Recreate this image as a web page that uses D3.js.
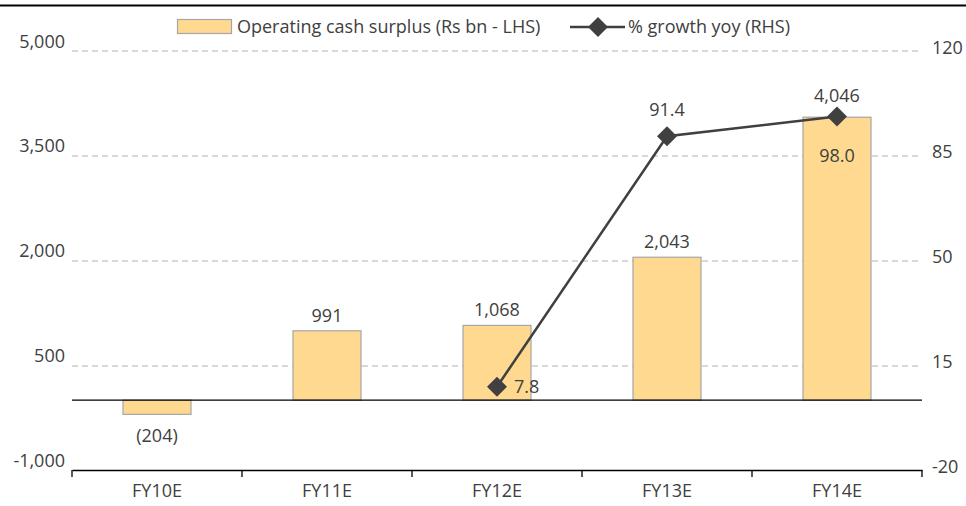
<!DOCTYPE html>
<html>
<head>
<meta charset="utf-8">
<script src="https://cdn.jsdelivr.net/npm/d3@7"></script>
<style>
  body { margin: 0; background: #fff; }
  text { font-family: "Open Sans", sans-serif; fill: #404040; }
</style>
</head>
<body>
<div id="chart-area"></div>
<script>
// data
var years = ["FY10E", "FY11E", "FY12E", "FY13E", "FY14E"];
var cashSurplus = [-204, 991, 1068, 2043, 4046];
var growth = [null, null, 7.8, 91.4, 98.0];
var leftTicks = [-1000, 500, 2000, 3500, 5000];
var rightTicks = [-20, 15, 50, 85, 120];

var width = 966, height = 506;
var margin = { left: 72, right: 44, top: 50.5, bottom: 36 };
var innerW = width - margin.left - margin.right,
    innerH = height - margin.top - margin.bottom;

var svg = d3.select("#chart-area")
  .append("svg")
    .attr("width", width)
    .attr("height", height);

// top rule
svg.append("rect")
  .attr("x", 0).attr("y", 4.5)
  .attr("width", width).attr("height", 2)
  .attr("fill", "#000");

var g = svg.append("g")
  .attr("transform", "translate(" + margin.left + "," + margin.top + ")");

var x = d3.scaleBand().domain(years).range([0, innerW]);
var y = d3.scaleLinear().domain([-1000, 5000]).range([innerH, 0]);
var y2 = d3.scaleLinear().domain([-20, 120]).range([innerH, 0]);

var fmt = function(d){ return d3.format(",")(d).replace("\u2212", "-") };
var FS = "18px";

// gridlines
g.selectAll(".grid")
  .data(leftTicks.slice(1))
  .enter().append("line")
    .attr("x1", 0).attr("x2", innerW)
    .attr("y1", function(d){ return Math.round(y(d)) + 0.5 })
    .attr("y2", function(d){ return Math.round(y(d)) + 0.5 })
    .attr("stroke", "#b0b0b0")
    .attr("stroke-dasharray", "6,4");

// left tick labels
g.selectAll(".ly")
  .data(leftTicks)
  .enter().append("text")
    .attr("x", -7)
    .attr("y", function(d){ return y(d) - 3 })
    .attr("text-anchor", "end")
    .attr("font-size", FS)
    .text(function(d){ return fmt(d) });

// right tick labels
g.selectAll(".ry")
  .data(rightTicks)
  .enter().append("text")
    .attr("x", innerW + 10)
    .attr("y", function(d){ return y2(d) + 3 })
    .attr("text-anchor", "start")
    .attr("font-size", FS)
    .text(function(d){ return fmt(d) });

// bars
var barW = x.bandwidth() * 0.4;
g.selectAll(".bar")
  .data(cashSurplus)
  .enter().append("rect")
    .attr("x", function(d, i){ return x(years[i]) + (x.bandwidth() - barW) / 2 })
    .attr("y", function(d){ return y(Math.max(0, d)) })
    .attr("width", barW)
    .attr("height", function(d){ return Math.abs(y(d) - y(0)) })
    .attr("fill", "#FFD98F")
    .attr("stroke", "#a6a6a6")
    .attr("stroke-width", 1.2);

// bar labels (last one lifted clear of the marker)
var barLabOff = [28, -9, -9, -9, -15];
g.selectAll(".blab")
  .data(cashSurplus)
  .enter().append("text")
    .attr("x", function(d, i){ return x(years[i]) + x.bandwidth() / 2 })
    .attr("y", function(d, i){ return y(d) + barLabOff[i] })
    .attr("text-anchor", "middle")
    .attr("font-size", FS)
    .text(function(d){ return d < 0 ? "(" + fmt(-d) + ")" : fmt(d) });

// zero line
g.append("line")
  .attr("x1", 0).attr("x2", innerW)
  .attr("y1", y(0)).attr("y2", y(0))
  .attr("stroke", "#000").attr("stroke-width", 1.3);

// x axis
var xAxis = d3.axisBottom(x).tickSize(0).tickPadding(14);
var xG = g.append("g")
  .attr("transform", "translate(0," + innerH + ")")
  .call(xAxis);
xG.select(".domain").attr("stroke", "#000").attr("stroke-width", 1.3);
xG.selectAll("text").attr("font-size", FS).attr("font-family", "Open Sans").attr("fill", "#404040");
// boundary ticks
var tickX = years.map(function(d){ return x(d) }).concat([innerW]);
xG.selectAll(".bt")
  .data(tickX)
  .enter().append("line")
    .attr("x1", function(d){ return d }).attr("x2", function(d){ return d })
    .attr("y1", 0).attr("y2", 7)
    .attr("stroke", "#000").attr("stroke-width", 1.3);

// growth line
var pts = growth.map(function(d, i){ return { k: years[i], v: d } })
  .filter(function(d){ return d.v !== null });
var line = d3.line()
  .x(function(d){ return x(d.k) + x.bandwidth() / 2 })
  .y(function(d){ return y2(d.v) });
g.append("path")
  .datum(pts)
  .attr("d", line)
  .attr("fill", "none")
  .attr("stroke", "#404040")
  .attr("stroke-width", 2.5);

var diamond = d3.symbol().type(d3.symbolSquare).size(200);
g.selectAll(".mk")
  .data(pts)
  .enter().append("path")
    .attr("d", diamond)
    .attr("transform", function(d){
      return "translate(" + (x(d.k) + x.bandwidth() / 2) + "," + y2(d.v) + ") rotate(45)" })
    .attr("fill", "#404040");

// growth labels
var glabPos = [
  { dx: 17, dy: 6, anchor: "start" },
  { dx: 0, dy: -20, anchor: "middle" },
  { dx: 0, dy: 46, anchor: "middle" }
];
g.selectAll(".glab")
  .data(pts)
  .enter().append("text")
    .attr("x", function(d, i){ return x(d.k) + x.bandwidth() / 2 + glabPos[i].dx })
    .attr("y", function(d, i){ return y2(d.v) + glabPos[i].dy })
    .attr("text-anchor", function(d, i){ return glabPos[i].anchor })
    .attr("font-size", FS)
    .text(function(d){ return d.v.toFixed(1) });

// legend
var lg = svg.append("g");
lg.append("rect")
  .attr("x", 177.5).attr("y", 19.5)
  .attr("width", 54).attr("height", 14)
  .attr("fill", "#FFD98F")
  .attr("stroke", "#a6a6a6")
  .attr("stroke-width", 1.2);
lg.append("text")
  .attr("x", 237).attr("y", 33)
  .attr("font-size", FS)
  .text("Operating cash surplus (Rs bn - LHS)");
lg.append("line")
  .attr("x1", 570).attr("x2", 625)
  .attr("y1", 27).attr("y2", 27)
  .attr("stroke", "#404040").attr("stroke-width", 2.5);
lg.append("path")
  .attr("d", diamond)
  .attr("transform", "translate(598,27) rotate(45)")
  .attr("fill", "#404040");
lg.append("text")
  .attr("x", 628).attr("y", 33)
  .attr("font-size", FS)
  .text("% growth yoy (RHS)");
</script>
</body>
</html>
